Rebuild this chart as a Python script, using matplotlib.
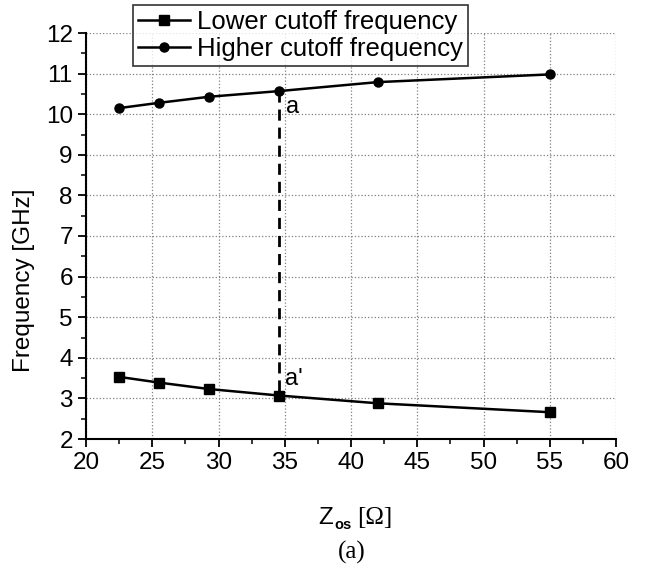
import matplotlib
matplotlib.use("Agg")
import matplotlib.pyplot as plt
from matplotlib.ticker import MultipleLocator

plt.rcParams["font.family"] = ["Liberation Sans", "DejaVu Sans"]

z_os = [22.5, 25.5, 29.3, 34.6, 42.0, 55.0]
lower_cutoff = [3.53, 3.39, 3.23, 3.07, 2.88, 2.66]
higher_cutoff = [10.15, 10.28, 10.43, 10.57, 10.79, 10.98]
marker_idx = 3  # point where the dashed a-a' line is drawn

W, H = 646, 567
fig = plt.figure(figsize=(W / 100, H / 100), dpi=100)
ax = fig.add_axes([86 / W, 1 - 439 / H, (616 - 86) / W, (439 - 33) / H])

l1, = ax.plot(z_os, lower_cutoff, "-", color="black", lw=1.8,
              marker="s", ms=6.5, label="Lower cutoff frequency")
l2, = ax.plot(z_os, higher_cutoff, "-", color="black", lw=1.8,
              marker="o", ms=6.5, label="Higher cutoff frequency")

xa = z_os[marker_idx]
ax.plot([xa, xa], [higher_cutoff[marker_idx], lower_cutoff[marker_idx]],
        color="black", lw=2, dashes=(4, 2.5))
ax.text(xa + 0.5, higher_cutoff[marker_idx] - 0.4, "a", fontsize=17, va="center")
ax.text(xa + 0.4, lower_cutoff[marker_idx] + 0.4, "a'", fontsize=17, va="center")

ax.set_xlim(20, 60)
ax.set_ylim(2, 12)
ax.xaxis.set_major_locator(MultipleLocator(5))
ax.xaxis.set_minor_locator(MultipleLocator(2.5))
ax.yaxis.set_major_locator(MultipleLocator(1))
ax.yaxis.set_minor_locator(MultipleLocator(0.5))
ax.tick_params(which="major", length=6, width=1.3, labelsize=17.5, direction="out")
ax.tick_params(which="minor", length=3.5, width=1.1, direction="out")
ax.grid(True, which="major", color="gray", ls=":", lw=0.9)
for s in ["top", "right"]:
    ax.spines[s].set_visible(False)
for s in ["left", "bottom"]:
    ax.spines[s].set_linewidth(1.5)

fig.text(24 / W, 1 - 280 / H, "Frequency [GHz]", rotation=90,
         ha="center", va="center", fontsize=17.5)

# x label built from pieces: Z, bold subscript, serif [Ω]
fig.text(318 / W, 1 - 524 / H, "Z", fontsize=17.5, ha="left", va="baseline")
fig.text(334 / W, 1 - 529 / H, "os", fontsize=10.5, weight="bold", ha="left", va="baseline")
fig.text(357 / W, 1 - 524 / H, "[Ω]", fontsize=18, ha="left", va="baseline",
         family=["Liberation Serif", "DejaVu Serif"])
fig.text(352 / W, 1 - 552 / H, "(a)", fontsize=18, ha="center", va="center",
         family=["Liberation Serif", "DejaVu Serif"])

leg = fig.legend(handles=[l1, l2], loc="upper left",
                 bbox_to_anchor=(133 / W, 1 - 5 / H), fontsize=18.5,
                 frameon=True, fancybox=False, edgecolor="black",
                 handlelength=2.0, handletextpad=0.3, borderpad=0.2,
                 labelspacing=0.1, borderaxespad=0)
leg.get_frame().set_linewidth(1.2)

fig.savefig("out.png", dpi=100)
